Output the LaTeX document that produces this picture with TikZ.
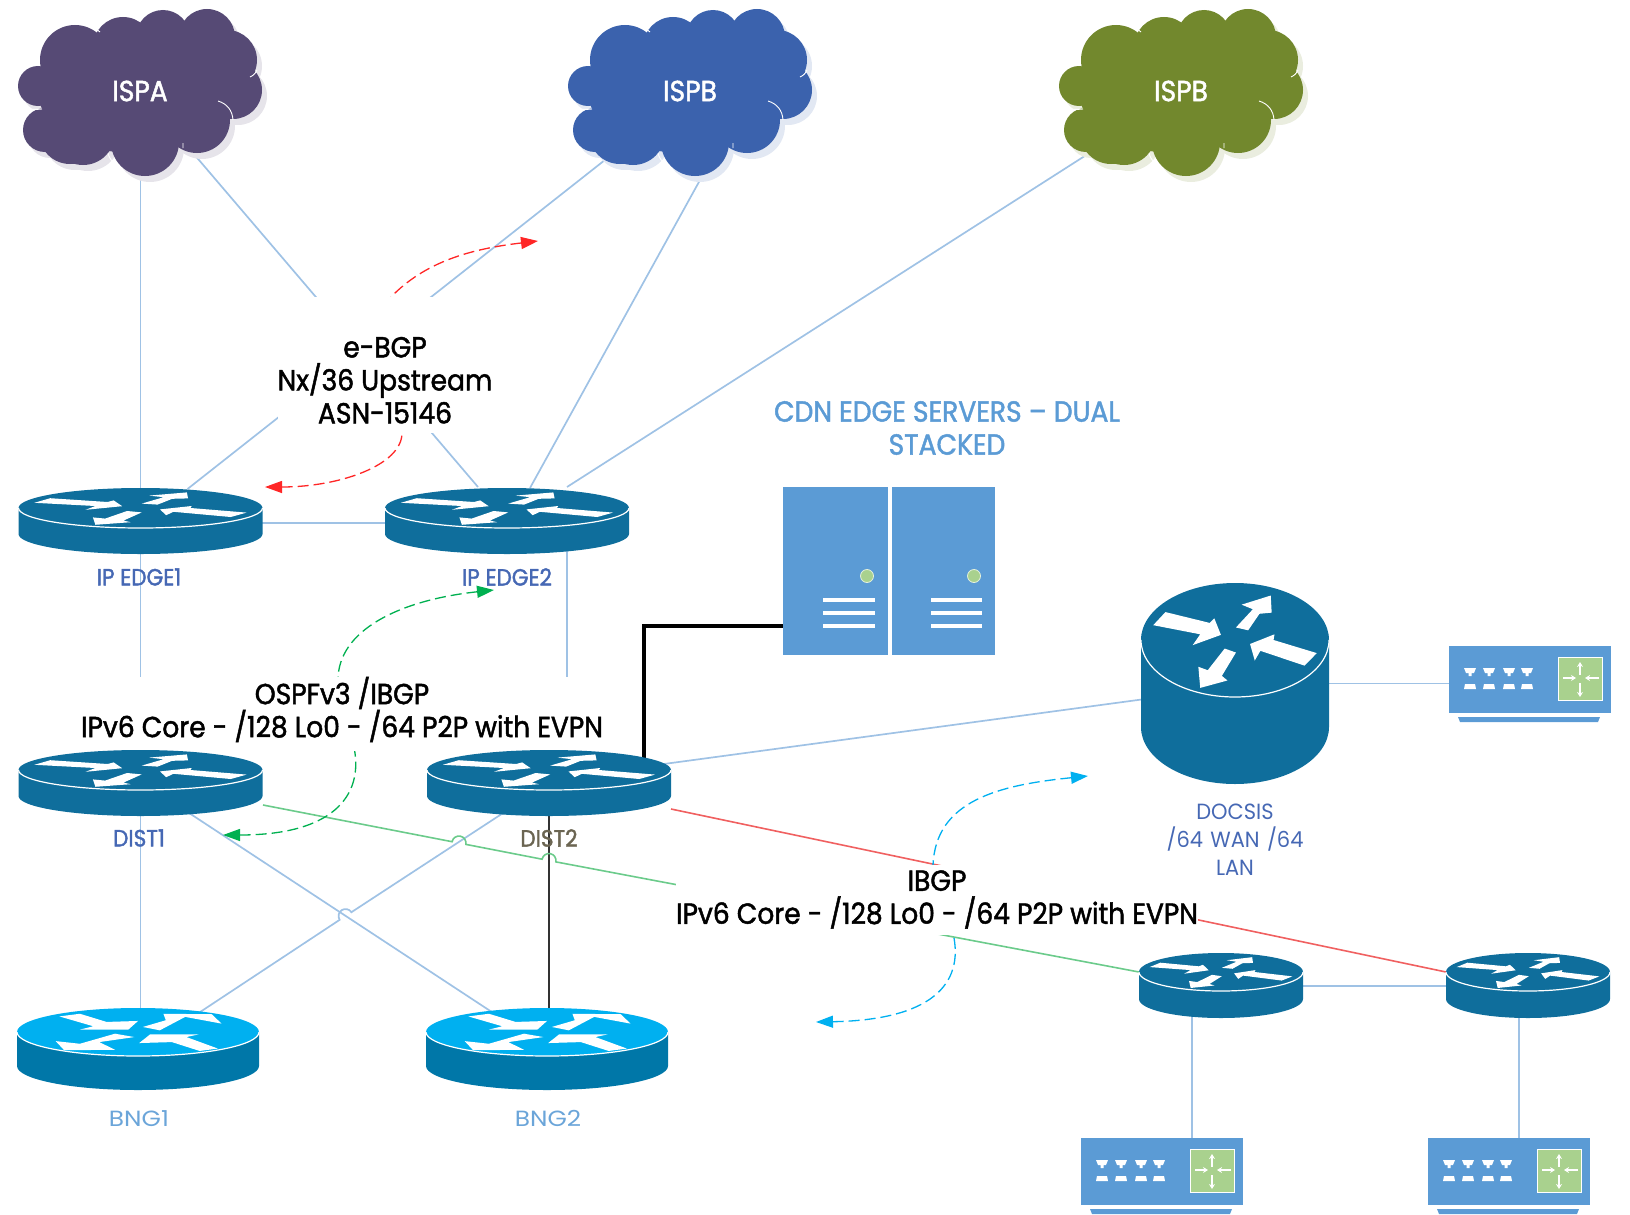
\documentclass[tikz,border=0pt]{standalone}
\usepackage{fontspec}
\setmainfont{Poppins}[FakeStretch=0.916,FakeBold=1.6]
\newfontfamily\bngfont{Poppins}[FakeStretch=1.13]
\newfontfamily\docsisfont{Poppins}[FakeStretch=0.953]
\usetikzlibrary{arrows.meta,calc}

\definecolor{wire}{HTML}{9FC2E5}
\definecolor{routerblue}{HTML}{0F6E9C}
\definecolor{bngtop}{HTML}{00B0F0}
\definecolor{bngbody}{HTML}{0077A8}
\definecolor{serverblue}{HTML}{5B9BD5}
\definecolor{leafgreen}{HTML}{A9D18E}
\definecolor{linkgreen}{HTML}{6BCB8B}
\definecolor{flowgreen}{HTML}{00B050}
\definecolor{linkred}{HTML}{F06060}
\definecolor{labelblue}{HTML}{4668B4}
\definecolor{cloudpurple}{HTML}{564A75}
\definecolor{cloudblue}{HTML}{3B62AD}
\definecolor{cloudgreen}{HTML}{72882D}
\definecolor{distgray}{HTML}{6B6552}

\tikzset{
	anchorbox/.style={minimum width=#1,inner sep=0pt,outer sep=0pt},
	wirelink/.style={draw=wire,line width=1.7pt},
	blocktext/.style={fill=white,align=center,inner sep=0pt,font=\fontsize{29}{33}\selectfont,text=black},
	devicetext/.style={align=center,inner sep=0pt,font=\fontsize{23.5}{28}\selectfont},
	flow/.style={dashed,line width=1.3pt,dash pattern=on 11pt off 5pt,{Triangle[length=17pt,width=12pt]}-}
}

\newcommand{\darkarrows}{
	\fill[white] (-.74,.49)--(-.27,.30)--(-.22,.38)--(-.15,.09)--(-.45,-.09)--(-.37,.10)--(-.87,.26)--cycle;
	\fill[white] (.01,.22)--(.14,.17)--(.26,.46)--(.39,.48)--(.38,.78)--(.07,.62)--(.19,.54)--cycle;
	\fill[white] (.16,-.07)--(.42,.10)--(.41,0)--(.87,-.23)--(.74,-.45)--(.27,-.19)--(.21,-.36)--cycle;
	\fill[white] (-.11,-.15)--(.01,-.22)--(-.14,-.63)--(-.08,-.71)--(-.37,-.84)--(-.39,-.47)--(-.29,-.53)--cycle;
}
\newcommand{\bngarrows}{
	\fill[white] (-.65,.65)--(-.48,.76)--(-.26,.42)--(0,.46)--(-.08,.10)--(-.48,.10)--(-.37,.24)--cycle;
	\fill[white] (.04,.21)--(.23,.49)--(.21,.76)--(.61,.74)--(.69,.35)--(.39,.63)--(.18,.07)--cycle;
	\fill[white] (-.03,-.21)--(-.32,-.42)--(-.19,-.74)--(-.61,-.76)--(-.68,-.38)--(-.48,-.49)--(-.19,-.07)--cycle;
	\fill[white] (.01,-.46)--(.10,-.10)--(.50,-.10)--(.40,-.21)--(.66,-.69)--(.51,-.79)--(.28,-.42)--cycle;
}
% node, rx, ry, depth, top colour, body colour, arrows
\newcommand{\routerbody}[7]{
	\begin{scope}[shift={(#1.center)}]
		\fill[#6] (-#2,0)--(-#2,#4) arc[start angle=180,end angle=360,x radius=#2pt,y radius=#3pt]--(#2,0)--cycle;
		\fill[#5] (0,0) ellipse (#2pt and #3pt);
		\draw[white,line width=1.2pt] (-#2,0) arc[start angle=180,end angle=360,x radius=#2pt,y radius=#3pt];
		\begin{scope}[xscale=#2,yscale=-#3]
			#7
		\end{scope}
	\end{scope}
}
% node, fill colour
\newcommand{\cloudbody}[2]{
	\begin{scope}[shift={(#1.center)}]
		\foreach \lx/\ly/\lr in {-102/-5/20,-95/39/22,-70/42/31,-57/42/32,5/51/34,57/29/33,93/-1/29,87/-31/30,67/-54/28,23/-54/27,-17/-44/30,-65/-31/35}{
			\fill[#2!15] ($(\lx,\ly)+(5,6)$) circle (\lr pt);
		}
		\foreach \lx/\ly/\lr in {-102/-5/20,-95/39/22,-70/42/31,-57/42/32,5/51/34,57/29/33,93/-1/29,87/-31/30,67/-54/28,23/-54/27,-17/-44/30,-65/-31/35}{
			\fill[#2] (\lx,\ly) circle (\lr pt);
		}
		\fill[#2] (-7,0) ellipse (95pt and 62pt);
		\draw[white,line width=.9pt] (-50,-64) to[bend left=15] (-40,-59) (-115,17) to[bend right=10] (-98,18) (78,10) to[bend left=35] (93,29) (110,-14) to[bend right=20] (117,-21) (-32,62) to[bend right=15] (-27,71) (43,52) -- (43,57);
	\end{scope}
}
\newcommand{\switchbody}[1]{
	\begin{scope}[shift={(#1.north west)}]
		\fill[serverblue] (0,0) rectangle (162,67);
		\fill[serverblue] (9,71)--(151,71)--(149,76)--(11,76)--cycle;
		\foreach \px in {21,40,60,78}{
			\fill[white] (\px-6,22)--(\px+6,22)--(\px+4,27)--(\px+1.5,27)--(\px+1.5,30)--(\px-1.5,30)--(\px-1.5,27)--(\px-4,27)--cycle;
			\fill[white] (\px-6,43)--(\px+6,43)--(\px+5,38)--(\px-5,38)--cycle;
		}
		\fill[leafgreen,draw=white,line width=.7pt] (109,11) rectangle (153,54);
		\draw[white,line width=1.1pt,-{Stealth[length=5pt,width=6pt]}] (131,29)--(131,16);
		\draw[white,line width=1.1pt,-{Stealth[length=5pt,width=6pt]}] (131,37)--(131,51);
		\draw[white,line width=1.1pt,-{Stealth[length=5pt,width=6pt]}] (114,32)--(127,32);
		\draw[white,line width=1.1pt,-{Stealth[length=5pt,width=6pt]}] (150,32)--(136,32);
	\end{scope}
}

\begin{document}
\begin{tikzpicture}[x=1pt,y=-1pt]
	\useasboundingbox (0,0) rectangle (1630,1215);
	%NODES FIRST, DRAWN LATER
	\node[anchorbox=240pt,minimum height=170pt] (ispa) at (140,91) {};
	\node[anchorbox=240pt,minimum height=170pt] (ispb) at (690,91) {};
	\node[anchorbox=240pt,minimum height=170pt] (ispc) at (1181,91) {};
	\node[anchorbox=244pt,minimum height=40pt] (edgea) at (140.5,508) {};
	\node[anchorbox=244pt,minimum height=40pt] (edgeb) at (507,508) {};
	\node[anchorbox=244pt,minimum height=40pt] (dista) at (140.5,770) {};
	\node[anchorbox=244pt,minimum height=40pt] (distb) at (549,770) {};
	\node[anchorbox=242pt,minimum height=48pt] (bnga) at (138,1032) {};
	\node[anchorbox=242pt,minimum height=48pt] (bngb) at (547,1032) {};
	\node[anchorbox=188pt,minimum height=114pt] (docsis) at (1235,640) {};
	\node[anchorbox=164pt,minimum height=38pt] (rtra) at (1221,972) {};
	\node[anchorbox=164pt,minimum height=38pt] (rtrb) at (1528,972) {};
	\node[anchorbox=162pt,minimum height=67pt] (swa) at (1530,679.5) {};
	\node[anchorbox=162pt,minimum height=67pt] (swb) at (1162,1171.5) {};
	\node[anchorbox=162pt,minimum height=67pt] (swc) at (1509,1171.5) {};
	\node[anchorbox=105pt,minimum height=168pt,fill=serverblue] (srva) at (835.5,571) {};
	\node[anchorbox=103pt,minimum height=168pt,fill=serverblue] (srvb) at (943.5,571) {};
	
	%UPSTREAM LINKS
	\draw[wirelink] (edgea.center |- ispa.center)--(edgea.center);
	\draw[wirelink] ($(ispa.center)+(53,62)$)--($(edgeb.center)+(-29,-21)$);
	\draw[wirelink] ($(ispb.center)+(-80,65)$)--($(edgea.center)+(47,-19)$);
	\draw[wirelink] ($(ispb.center)+(15,80)$)--($(edgeb.center)+(23,-20)$);
	\draw[wirelink] ($(ispc.center)+(-90,61)$)--($(edgeb.center)+(60,-21)$);
	\draw[wirelink] ([yshift=-15pt]edgea.center)--([yshift=-15pt]edgeb.center);
	
	%CORE LINKS
	\draw[wirelink] (edgea.center)--(dista.center);
	\draw[wirelink] ([xshift=60pt]edgeb.center)--([xshift=18pt]distb.center);
	\draw[wirelink] (dista.center)--(dista.center |- bnga.center);
	\draw[black!80,line width=1.3pt] (distb.center)--(distb.center |- bngb.center);
	\coordinate (hopc) at (345.5,916);
	\draw[wirelink] ($(dista.center)+(6,15)$)--($(bngb.center)+(-43,-12)$);
	\draw[wirelink] ($(distb.center)+(-3,15)$)--($(hopc)+(5.9,-3.8)$) arc[start angle=33,end angle=213,radius=7pt]--($(bnga.center)+(50,-12)$);
	\draw[wirelink] ($(distb.center)+(100,-4)$)--($(docsis.center)+(-75,57)$);
	\draw[wirelink] ([yshift=-4pt]swa.west)--([yshift=-4pt]swa.west -| docsis.center);
	\draw[wirelink] ([yshift=-14pt]rtra.center)--([yshift=-14pt]rtrb.center);
	\draw[wirelink] ([xshift=-29pt]rtra.center)--([xshift=-29pt]rtra.center |- swb.north);
	\draw[wirelink] ([xshift=-9pt]rtrb.center)--([xshift=-9pt]rtrb.center |- swc.north);
	\draw[line width=3.6pt] ([xshift=95pt]distb.center) |- ([yshift=-55pt]srva.west);
	
	%GREEN AND RED LINKS
	\coordinate (hopa) at (459,843);
	\coordinate (hopb) at (549,860.5);
	\draw[linkgreen,line width=1.6pt] ($(dista.center)+(122.5,35)$)--($(hopa)+(-6.9,-1.3)$) arc[start angle=169,end angle=-11,radius=7pt]--($(hopb)+(-6.9,-1.3)$) arc[start angle=169,end angle=-11,radius=7pt]--(rtra.west);
	\draw[linkred,line width=1.6pt] ($(distb.center)+(122,39)$)--(rtrb.west);
	
	%TRAFFIC ARCS
	\draw[flow,draw=red!85] (538,241) .. controls (470,249) and (425,262) .. (391,297);
	\draw[flow,draw=red!85] (265,487) .. controls (340,487) and (402,465) .. (402,433);
	\draw[flow,draw=flowgreen] (494,590) .. controls (400,600) and (338,630) .. (338,680) .. controls (338,700) and (353,725) .. (353,743);
	\draw[flow,draw=flowgreen] (223,835) .. controls (340,835) and (365,790) .. (353,743);
	\draw[flow,draw=bngtop] (1088,776) .. controls (1000,785) and (935,800) .. (933,866);
	\draw[flow,draw=bngtop] (816,1022) .. controls (930,1020) and (965,985) .. (953,933);
	
	%TEXT BLOCKS
	\node[blocktext,minimum width=214pt,minimum height=136pt] (ebgp) at (385,365) {\rule{0pt}{51pt}e-BGP\\Nx/36 Upstream\\ASN-15146};
	\node[blocktext,minimum width=526pt,minimum height=70pt] (ospf) at (342,714) {OSPFv3 /IBGP\\\rule[-14pt]{0pt}{14pt}IPv6 Core - /128 Lo0 - /64 P2P with EVPN};
	\node[blocktext,minimum width=522pt,minimum height=70pt] (ibgp) at (937,899.5) {IBGP\\IPv6 Core - /128 Lo0 - /64 P2P with EVPN};
	\node[blocktext,fill=none,text=serverblue] (cdn) at (947,428) {CDN EDGE SERVERS -- DUAL\\STACKED};
	
	%DEVICES
	\cloudbody{ispa}{cloudpurple}
	\cloudbody{ispb}{cloudblue}
	\cloudbody{ispc}{cloudgreen}
	\routerbody{edgea}{122}{20}{26}{routerblue}{routerblue}{\darkarrows}
	\routerbody{edgeb}{122}{20}{26}{routerblue}{routerblue}{\darkarrows}
	\routerbody{dista}{122}{20}{26}{routerblue}{routerblue}{\darkarrows}
	\routerbody{distb}{122}{20}{26}{routerblue}{routerblue}{\darkarrows}
	\routerbody{bnga}{121}{24}{34}{bngtop}{bngbody}{\bngarrows}
	\routerbody{bngb}{121}{24}{34}{bngtop}{bngbody}{\bngarrows}
	\routerbody{docsis}{94}{57}{87}{routerblue}{routerblue}{\darkarrows}
	\routerbody{rtra}{82}{19}{27}{routerblue}{routerblue}{\darkarrows}
	\routerbody{rtrb}{82}{19}{27}{routerblue}{routerblue}{\darkarrows}
	\switchbody{swa}
	\switchbody{swb}
	\switchbody{swc}
	
	%SERVER FRONTS
	\fill[leafgreen,draw=white!70!leafgreen,line width=.8pt] ([shift={(31.5,5)}]srva.center) circle (6.5pt);
	\fill[leafgreen,draw=white!70!leafgreen,line width=.8pt] ([shift={(30.5,5)}]srvb.center) circle (6.5pt);
	\foreach \ly in {29,42,55}{
		\fill[white] ($(srva.center)+(-12.5,\ly-2.3)$) rectangle ($(srva.center)+(39.5,\ly+2.3)$);
		\fill[white] ($(srvb.center)+(-12.5,\ly-2.3)$) rectangle ($(srvb.center)+(38.5,\ly+2.3)$);
	}
	
	%CLOUD AND DEVICE LABELS
	\node[inner sep=0pt,text=white,font=\fontsize{29}{30}\selectfont] (ispatxt) at (ispa.center) {ISPA};
	\node[inner sep=0pt,text=white,font=\fontsize{29}{30}\selectfont] (ispbtxt) at (ispb.center) {ISPB};
	\node[inner sep=0pt,text=white,font=\fontsize{29}{30}\selectfont] (ispctxt) at (ispc.center) {ISPB};
	\node[devicetext,text=labelblue] (edgeatxt) at (139,577) {IP EDGE1};
	\node[devicetext,text=labelblue] (edgebtxt) at (507,577) {IP EDGE2};
	\node[devicetext,text=labelblue] (distatxt) at (139,838) {DIST1};
	\node[devicetext,text=distgray] (distbtxt) at (549,838) {DIST2};
	\node[devicetext,anchor=base,text=serverblue!90,font=\bngfont\fontsize{22}{28}\selectfont] (bngatxt) at (139,1126) {BNG1};
	\node[devicetext,anchor=base,text=serverblue!90,font=\bngfont\fontsize{22}{28}\selectfont] (bngbtxt) at (548,1126) {BNG2};
	\node[devicetext,text=labelblue,text width=160pt,font=\docsisfont\fontsize{22}{28}\selectfont] (docsistxt) at (1235,840) {DOCSIS\\/64 WAN /64\\LAN};
\end{tikzpicture}
\end{document}
